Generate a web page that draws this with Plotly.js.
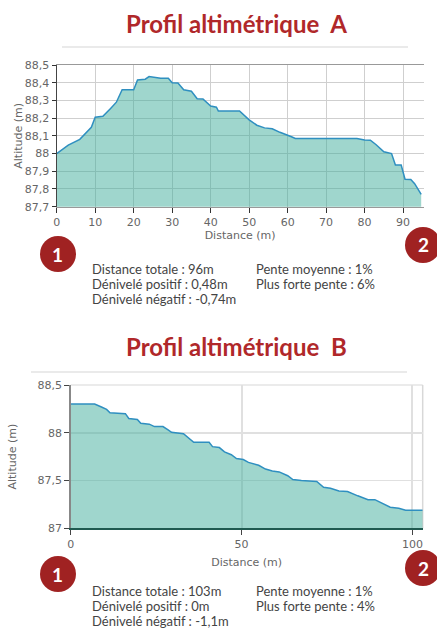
<!DOCTYPE html>
<html>
<head>
<meta charset="utf-8">
<script src="https://cdn.plot.ly/plotly-3.0.1.min.js"></script>
<style>html,body{margin:0;padding:0;background:#fff;}#chart{width:437px;height:628px;}</style>
</head>
<body>
<div id="chart"></div>
<script>
// ---- Data: profile A ----
const distA = [0, 3, 6, 9, 10, 12, 14, 15.5, 17, 20, 21, 23, 24, 26, 27, 29, 30, 31.5, 33, 35, 36.5, 38, 40, 41.5, 42, 47.5, 50, 52, 54, 56, 58, 61, 62, 70, 78, 80, 81.5, 83, 85, 87, 88, 89.5, 90.5, 92, 93, 94.7];
const altA  = [88.0, 88.048, 88.08, 88.148, 88.205, 88.21, 88.255, 88.29, 88.36, 88.36, 88.415, 88.42, 88.435, 88.43, 88.425, 88.425, 88.4, 88.398, 88.36, 88.352, 88.31, 88.308, 88.268, 88.262, 88.24, 88.24, 88.19, 88.16, 88.145, 88.14, 88.12, 88.095, 88.085, 88.085, 88.085, 88.076, 88.075, 88.05, 88.01, 88.0, 87.935, 87.935, 87.855, 87.853, 87.83, 87.77];
// ---- Data: profile B ----
const distB = [0, 7, 9, 10.5, 11.5, 16, 17, 19.5, 20.5, 23, 24.5, 27, 28.5, 29.5, 33, 35, 36, 40.5, 41.5, 43.5, 45, 47, 48.5, 50.5, 52, 55, 57, 59, 61, 63.5, 65, 67.5, 72, 74, 76, 78.5, 81, 84, 87, 89, 91, 93.5, 96, 98, 103];
const altB  = [88.30, 88.30, 88.27, 88.245, 88.21, 88.20, 88.15, 88.14, 88.10, 88.09, 88.065, 88.065, 88.03, 88.005, 87.99, 87.925, 87.90, 87.90, 87.855, 87.845, 87.80, 87.77, 87.73, 87.72, 87.69, 87.66, 87.62, 87.60, 87.59, 87.55, 87.51, 87.50, 87.49, 87.43, 87.42, 87.39, 87.385, 87.34, 87.30, 87.30, 87.265, 87.22, 87.21, 87.19, 87.19];

// ---- Tick labels ----
const xTicksA = [0, 10, 20, 30, 40, 50, 60, 70, 80, 90];
const yTicksA = [87.7, 87.8, 87.9, 88, 88.1, 88.2, 88.3, 88.4, 88.5];
const xTicksB = [0, 50, 100];
const yTicksB = [87, 87.5, 88, 88.5];

// ---- Texts ----
const titles = ["Profil altimétrique  A", "Profil altimétrique  B"];
const statsA_left = ["Distance totale : 96m", "Dénivelé positif : 0,48m", "Dénivelé négatif : -0,74m"];
const statsA_right = ["Pente moyenne : 1%", "Plus forte pente : 6%"];
const statsB_left = ["Distance totale : 103m", "Dénivelé positif : 0m", "Dénivelé négatif : -1,1m"];
const statsB_right = ["Pente moyenne : 1%", "Plus forte pente : 4%"];
const markers = ["1", "2"];

const W = 437, H = 628;
const px = x => x / W;
const py = y => 1 - y / H;

const FILL = 'rgba(64,174,156,0.5)';
const LINE = '#2f8fc0';
const RED = '#b0282a';
const DARKRED = '#a02222';
const axisFont = {family: 'DejaVu Sans, Verdana, sans-serif', size: 11, color: '#666'};

const traces = [
  {x: distA, y: altA, type: 'scatter', mode: 'lines', fill: 'tozeroy', fillcolor: FILL,
   line: {color: LINE, width: 1.5}, xaxis: 'x', yaxis: 'y', hoverinfo: 'skip'},
  {x: distB, y: altB, type: 'scatter', mode: 'lines', fill: 'tozeroy', fillcolor: FILL,
   line: {color: LINE, width: 1.5}, xaxis: 'x2', yaxis: 'y2', hoverinfo: 'skip'}
];

const annotations = [];
const shapes = [];

// Titles
[[titles[0], 23], [titles[1], 346]].forEach(([t, y]) => {
  annotations.push({text: t, xref: 'paper', yref: 'paper', x: px(236), y: py(y), showarrow: false,
    xanchor: 'center', yanchor: 'middle', font: {family: 'Lato, sans-serif', size: 24, color: RED, weight: 'bold'}});
});
// Title separator lines
shapes.push({type: 'line', xref: 'paper', yref: 'paper', x0: px(62), x1: px(408), y0: py(47), y1: py(47), line: {color: '#d6d6d6', width: 1.2}});
shapes.push({type: 'line', xref: 'paper', yref: 'paper', x0: px(31), x1: px(407), y0: py(372), y1: py(372), line: {color: '#d6d6d6', width: 1.2}});

// Stats
const statFont = {family: 'Lato, sans-serif', size: 13, color: '#444'};
function addStats(left, right, x1, x2, ys) {
  left.forEach((t, i) => annotations.push({text: t, xref: 'paper', yref: 'paper', x: px(x1), y: py(ys[i]), showarrow: false, xanchor: 'left', yanchor: 'middle', font: statFont}));
  right.forEach((t, i) => annotations.push({text: t, xref: 'paper', yref: 'paper', x: px(x2), y: py(ys[i]), showarrow: false, xanchor: 'left', yanchor: 'middle', font: statFont}));
}
addStats(statsA_left, statsA_right, 90, 254, [269, 284, 299]);
addStats(statsB_left, statsB_right, 90, 254, [591, 606, 621]);

// Numbered markers
function addMarker(label, cx, cy) {
  shapes.push({type: 'circle', xref: 'paper', yref: 'paper', xsizemode: 'pixel', ysizemode: 'pixel',
    xanchor: px(cx), yanchor: py(cy), x0: -18, x1: 18, y0: -18, y1: 18,
    fillcolor: DARKRED, line: {width: 0}});
  annotations.push({text: '<b>' + label + '</b>', xref: 'paper', yref: 'paper', x: px(cx), y: py(cy), showarrow: false,
    xanchor: 'center', yanchor: 'middle', font: {family: 'Lato, sans-serif', size: 19, color: '#fff'}});
}
addMarker(markers[0], 58, 254);
addMarker(markers[1], 423, 245);
addMarker(markers[0], 58, 574);
addMarker(markers[1], 423, 568);

const layout = {
  width: W, height: H,
  margin: {l: 0, r: 0, t: 0, b: 0},
  paper_bgcolor: '#fff', plot_bgcolor: '#fff',
  showlegend: false,
  separators: ', ',
  font: axisFont,
  xaxis: {
    domain: [px(56.7), px(423.5)], anchor: 'y', range: [0, 95.3],
    tickvals: xTicksA, ticks: 'outside', ticklen: 5, tickcolor: '#333', tickwidth: 1,
    showgrid: true, gridcolor: '#cfcfcf', gridwidth: 1,
    showline: true, linecolor: '#999', linewidth: 1, mirror: true,
    zeroline: false, tickfont: axisFont,
    title: {text: 'Distance (m)', font: axisFont, standoff: 3}
  },
  yaxis: {
    domain: [py(206.7), py(65)], anchor: 'x', range: [87.7, 88.5],
    tickvals: yTicksA, ticks: 'outside', ticklen: 4, tickcolor: '#333',
    showgrid: true, gridcolor: '#cfcfcf', gridwidth: 1,
    showline: true, linecolor: '#444', linewidth: 1.2, mirror: false,
    zeroline: false, tickfont: axisFont,
    title: {text: 'Altitude (m)', font: axisFont, standoff: 0}
  },
  xaxis2: {
    domain: [px(70.7), px(422.7)], anchor: 'y2', range: [0, 103],
    tickvals: xTicksB, ticks: 'outside', ticklen: 5, tickcolor: '#444',
    showgrid: true, gridcolor: '#e0e0e0', gridwidth: 2,
    showline: true, linecolor: '#1f5a50', linewidth: 1.5,
    zeroline: false, tickfont: axisFont,
    title: {text: 'Distance (m)', font: axisFont, standoff: 8}
  },
  yaxis2: {
    domain: [py(528.3), py(385)], anchor: 'x2', range: [87, 88.5],
    tickvals: yTicksB, ticks: 'outside', ticklen: 5, tickcolor: '#444',
    showgrid: true, gridcolor: '#e0e0e0', gridwidth: 1.5,
    showline: true, linecolor: '#888', linewidth: 1.5,
    zeroline: false, tickfont: axisFont,
    title: {text: 'Altitude (m)', font: axisFont, standoff: 18}
  },
  shapes: shapes.concat([
    {type: 'line', xref: 'x2 domain', yref: 'y2 domain', x0: 0, x1: 1, y0: 1, y1: 1, line: {color: '#d8d8d8', width: 1.2}, layer: 'below'},
    {type: 'line', xref: 'x2 domain', yref: 'y2 domain', x0: 1, x1: 1, y0: 0, y1: 1, line: {color: '#d8d8d8', width: 1.5}, layer: 'below'}
  ]),
  annotations: annotations
};

Plotly.newPlot('chart', traces, layout, {displayModeBar: false, staticPlot: true});
</script>
</body>
</html>
